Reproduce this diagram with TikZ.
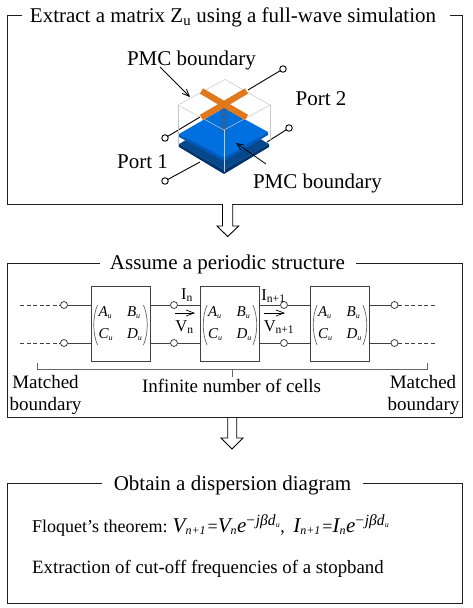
\documentclass[tikz,border=0pt]{standalone}
\usepackage{fontspec}
\setmainfont{Liberation Serif}
\usepackage{amsmath}
\usetikzlibrary{arrows.meta}
\definecolor{orangeC}{RGB}{224,120,28}
\definecolor{blueT}{RGB}{0,112,224}
\definecolor{blueS}{RGB}{0,90,190}
\definecolor{navyT}{RGB}{5,72,140}
\definecolor{navyS}{RGB}{0,52,110}
\definecolor{stalk}{RGB}{35,100,175}
\tikzset{
  frame/.style={draw=black!88,line width=0.9pt},
  txt/.style={inner sep=0pt,anchor=base,font=\fontsize{21}{23}\selectfont},
  txts/.style={inner sep=0pt,anchor=base,font=\fontsize{19}{22}\selectfont},
  txtb/.style={inner sep=0pt,anchor=base west,font=\fontsize{18.8}{22}\selectfont},
  wire/.style={draw=black!75,line width=0.9pt},
  dashwire/.style={wire,dash pattern=on 4pt off 2.5pt},
  terminal/.style={circle,draw=black!75,fill=white,line width=0.8pt,inner sep=0pt,minimum width=5pt,minimum height=7pt},
  termc/.style={circle,draw=black,fill=white,line width=0.9pt,inner sep=0pt,minimum size=6.5pt},
  cell/.style={draw=black!75,line width=0.8pt,fill=white,minimum width=59pt,minimum height=75pt,inner sep=0pt},
  matrixtxt/.style={inner sep=0pt},
  hollow/.style={draw=black,line width=0.9pt,fill=white},
  lbl/.style={inner sep=0pt,anchor=base,font=\fontsize{16.5}{18}\selectfont},
  ghost/.style={draw=black!22,line width=0.5pt},
  leader/.style={draw=black,line width=0.8pt,-{Straight Barb[length=7pt,width=6pt]}},
  vecarrow/.style={draw=black,line width=0.7pt,-{Straight Barb[length=8pt,width=6pt]}},
  brace/.style={draw=black!60,line width=0.6pt},
  portline/.style={draw=black,line width=0.9pt},
  crossarm/.style={draw=orangeC,line width=6.2pt},
  parenline/.style={draw=black!60,line width=0.7pt},
  parens/.pic={
    \draw[parenline] (-23,-20) .. controls (-28,-8) and (-28,8) .. (-23,20);
    \draw[parenline] (23,-20) .. controls (28,-8) and (28,8) .. (23,20);
  },
}
\newcommand{\subu}{\textsubscript{\fontsize{8}{8}\selectfont\itshape u}}
\newcommand{\abcd}{\fontsize{15}{17}\selectfont\itshape\begin{tabular}{@{}l@{\hspace{14pt}}l@{}}A\subu&B\subu\\[5pt]C\subu&D\subu\end{tabular}}
\newcommand{\itsub}[1]{\textsubscript{\fontsize{12}{12}\selectfont\itshape #1}}
\newcommand{\bigit}[1]{{\itshape\fontsize{21}{22}\selectfont #1}}
\newcommand{\itexp}{\textsuperscript{\fontsize{15.5}{15}\selectfont\itshape −jβd\kern0.2pt\raisebox{-1.5pt}{\fontsize{8}{8}\selectfont u}}}
\begin{document}
\begin{tikzpicture}[x=1pt,y=-1pt]
\useasboundingbox (0,0) rectangle (472,608);
% frames
\draw[frame] (22,15) -- (7.5,15) -- (7.5,204) -- (462,204) -- (462,15) -- (450,15);
\draw[frame] (100,263) -- (7.5,263) -- (7.5,417.5) -- (462,417.5) -- (462,263) -- (356,263);
\draw[frame] (102,483) -- (7.5,483) -- (7.5,603) -- (462,603) -- (462,483) -- (363,483);
\node[txt] (t1) at (233,22) {Extract a matrix Z\textsubscript{u} using a full-wave simulation};
\node[txt] (t2) at (227.5,269) {Assume a periodic structure};
\node[txt] (t3) at (232.5,490) {Obtain a dispersion diagram};
% hollow arrows
\draw[hollow] (222.5,204) -- (222.5,226) -- (217,226) -- (227.7,236.5) -- (238.7,226) -- (232.7,226) -- (232.7,204);
\draw[hollow] (227.7,418) -- (227.7,438) -- (221,438) -- (232,449) -- (243,438) -- (236.7,438) -- (236.7,418);
% 3D model
\coordinate (portA) at (165,138);
\coordinate (portB) at (283,69);
\coordinate (portC) at (165,181);
\coordinate (portD) at (289,128);
\draw[portline] (portB) -- (248,90);
\draw[portline] (portA) -- (200,117);
\draw[portline] (portC) -- (200,162);
\draw[portline] (portD) -- (267,142);
% lower plate
\fill[navyT] (179,144) -- (224,118) -- (269,144) -- (224,170) -- cycle;
\fill[navyS] (179,144) -- (224,170) -- (269,144) -- (269,147) -- (224,174) -- (179,147) -- cycle;
% upper plate
\fill[blueT] (179,134) -- (224,108) -- (268,132) -- (224,158) -- cycle;
\fill[blueS] (179,134) -- (224,158) -- (224,161) -- (179,137) -- cycle;
\fill[blueS] (224,158) -- (268,132) -- (268,135) -- (224,161) -- cycle;
\fill[stalk] (220.5,104) rectangle (227,133);
% ghost box
\draw[ghost] (178,105) -- (225,79.5) -- (270,105) -- (224,130) -- cycle;
\draw[ghost] (178,105) -- (178,147) (270,105) -- (270,140) (224,130) -- (224,172);
% cross
\draw[crossarm] (201.5,91) -- (246.5,117.5);
\draw[crossarm] (201.5,117.5) -- (246.5,91);
\node[termc] (p1) at (portA) {};
\node[termc] (p2) at (portB) {};
\node[termc] (p3) at (portC) {};
\node[termc] (p4) at (portD) {};
\node[txt] (pmc1) at (191.5,65) {PMC boundary};
\node[txt] (pmc2) at (317.5,188) {PMC boundary};
\node[txt] (port2) at (321,105) {Port 2};
\node[txt] (port1) at (142.5,168) {Port 1};
\coordinate (l0) at (160,67);
\coordinate (l1) at (190,97);
\coordinate (l3) at (266,164);
\coordinate (l2) at (236,143);
\draw[leader] (l0) -- (l1);
\draw[leader] (l3) -- (l2);
% circuit
\node[terminal] (ta1) at (64,305) {};
\node[terminal] (tb1) at (64,343) {};
\node[terminal] (ta2) at (174,305) {};
\node[terminal] (tb2) at (174,343) {};
\node[terminal] (ta3) at (284,305) {};
\node[terminal] (tb3) at (284,343) {};
\node[terminal] (ta4) at (394.5,305) {};
\node[terminal] (tb4) at (394.5,343) {};
\coordinate (ea) at (20,305);
\coordinate (eb) at (20,343);
\coordinate (fa) at (436,305);
\coordinate (fb) at (436,343);
\draw[dashwire] (ea) -- (ta1);
\draw[dashwire] (eb) -- (tb1);
\draw[dashwire] (ta4) -- (fa);
\draw[dashwire] (tb4) -- (fb);
\node[cell] (c1) at (120.5,323.5) {};
\node[cell] (c2) at (230,323.5) {};
\node[cell] (c3) at (340,323.5) {};
\node[matrixtxt] (m1) at (120.5,324) {\abcd};
\node[matrixtxt] (m2) at (230,324) {\abcd};
\node[matrixtxt] (m3) at (340,324) {\abcd};
\pic at (120.5,325) {parens};
\pic at (230,325) {parens};
\pic at (340,325) {parens};
\draw[wire] (ta1) -- (ta1-|c1.west);
\draw[wire] (tb1) -- (tb1-|c1.west);
\draw[wire] (ta2-|c1.east) -- (ta2) -- (ta2-|c2.west);
\draw[wire] (tb2-|c1.east) -- (tb2) -- (tb2-|c2.west);
\draw[wire] (ta3-|c2.east) -- (ta3) -- (ta3-|c3.west);
\draw[wire] (tb3-|c2.east) -- (tb3) -- (tb3-|c3.west);
\draw[wire] (ta4-|c3.east) -- (ta4);
\draw[wire] (tb4-|c3.east) -- (tb4);
\node[lbl] (In) at (187,299) {I\textsubscript{n}};
\node[lbl] (Vn) at (184.5,331) {V\textsubscript{n}};
\node[lbl] (In1) at (273.5,300) {I\textsubscript{n+1}};
\node[lbl] (Vn1) at (279,331) {V\textsubscript{n+1}};
\coordinate (va) at (175,313);
\coordinate (vb) at (195,313);
\coordinate (vc) at (264,313);
\coordinate (vd) at (285,313);
\draw[vecarrow] (va) -- (vb);
\draw[vecarrow] (vc) -- (vd);
% brace
\draw[brace] (37,363) -- (37,369) -- (427,369) -- (427,363);
\draw[brace] (232,369) -- (232,377);
\node[txts] (inf) at (231.5,392) {Infinite number of cells};
\node[txts] (mb1a) at (45.5,388) {Matched};
\node[txts] (mb1b) at (45.5,410) {boundary};
\node[txts] (mb2a) at (423,388) {Matched};
\node[txts] (mb2b) at (423.5,410) {boundary};
% bottom
\node[txtb,font=\fontsize{18}{22}\selectfont] (floq) at (32,532) {Floquet's theorem: \kern-1pt\bigit{V}\itsub{n+1}\kern1.5pt=\bigit{V}\itsub{n}\bigit{e}\kern-1pt\itexp, \kern4pt\bigit{I}\itsub{n+1}\kern1.5pt=\bigit{I}\itsub{n}\bigit{e}\kern-1pt\itexp};
\node[txtb] (extr) at (32,573) {Extraction of cut-off frequencies of a stopband};
\end{tikzpicture}
\end{document}
